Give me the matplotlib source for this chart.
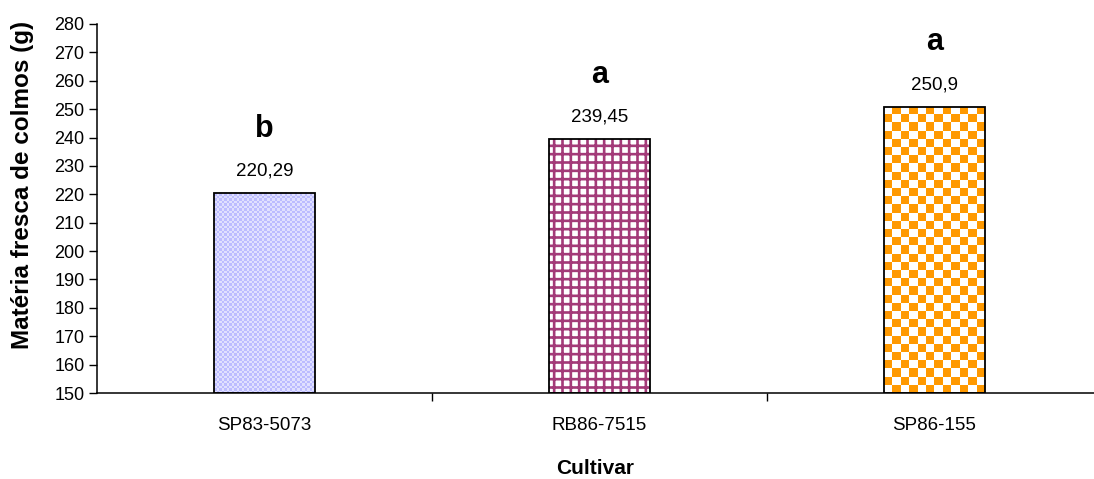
import numpy as np
import matplotlib
matplotlib.use("Agg")
import matplotlib.pyplot as plt
from matplotlib.ticker import MultipleLocator, FixedLocator
from matplotlib.colors import ListedColormap

cultivars = ["SP83-5073", "RB86-7515", "SP86-155"]
mass = [220.29, 239.45, 250.9]
value_labels = ["220,29", "239,45", "250,9"]
letters = ["b", "a", "a"]

plt.rcParams["font.family"] = ["Liberation Sans", "DejaVu Sans"]

fig = plt.figure(figsize=(10.94, 4.79), dpi=100)
ax = fig.add_axes([97 / 1094, 1 - 393 / 479, (1094 - 97) / 1094, (393 - 24) / 479])

x = np.arange(len(cultivars))
width = 0.30
bars = ax.bar(x, [m - 150 for m in mass], bottom=150, width=width,
              color="none", edgecolor="black", linewidth=1.3, zorder=3)

ax.set_xlim(-0.5, 2.476)
ax.set_ylim(150, 280)


def checker_fill(patch, color, cell_px, bg="white"):
    """Fill a bar with a checkerboard clipped to its outline."""
    fig.canvas.draw()
    bb = patch.get_window_extent()
    nx = max(1, int(round(bb.width / cell_px)))
    ny = max(1, int(round(bb.height / cell_px)))
    board = (np.add.outer(np.arange(ny), np.arange(nx)) % 2).astype(float)
    cmap = ListedColormap([bg, color])
    x0, y0 = patch.get_x(), patch.get_y()
    im = ax.imshow(board, cmap=cmap, interpolation="nearest", aspect="auto",
                   extent=(x0, x0 + patch.get_width(), y0, y0 + patch.get_height()),
                   origin="lower", zorder=2)
    im.set_clip_path(patch)


# SP83-5073: fine lavender dotted texture
checker_fill(bars[0], "#bcbcff", 2.5, bg="#e0e0ff")
# RB86-7515: magenta grid on white
plt.rcParams["hatch.linewidth"] = 1.9
ax.bar(x[1], mass[1] - 150, bottom=150, width=width, color="white",
       edgecolor="#a33a78", linewidth=0, hatch="++", zorder=2)
# SP86-155: orange checkerboard
checker_fill(bars[2], "#ff9900", 8.3)
ax.set_xlim(-0.5, 2.476)
ax.set_ylim(150, 280)

for xi, m, lab, let in zip(x, mass, value_labels, letters):
    ax.text(xi, m + 6.2, lab, ha="center", va="baseline", fontsize=13.5)
    ax.text(xi, m + 19.8, let, ha="center", va="baseline", fontsize=22, fontweight="bold")

ax.spines["top"].set_visible(False)
ax.spines["right"].set_visible(False)
for s in ("left", "bottom"):
    ax.spines[s].set_linewidth(1.1)

ax.yaxis.set_major_locator(MultipleLocator(10))
ax.tick_params(axis="y", direction="out", length=6, width=1, labelsize=13, pad=3)
ax.set_xticks(x)
ax.set_xticklabels(cultivars)
ax.tick_params(axis="x", which="major", length=0, labelsize=13.5, pad=17)
ax.xaxis.set_minor_locator(FixedLocator([0.5, 1.5, 2.5]))
ax.tick_params(axis="x", which="minor", direction="out", length=6, width=1)

ax.set_ylabel("Matéria fresca de colmos (g)", fontsize=17.5, fontweight="bold")
ax.yaxis.set_label_coords(-0.063, 0.565)
ax.set_xlabel("Cultivar", fontsize=15, fontweight="bold", labelpad=18)

fig.savefig("out.png", dpi=100)
